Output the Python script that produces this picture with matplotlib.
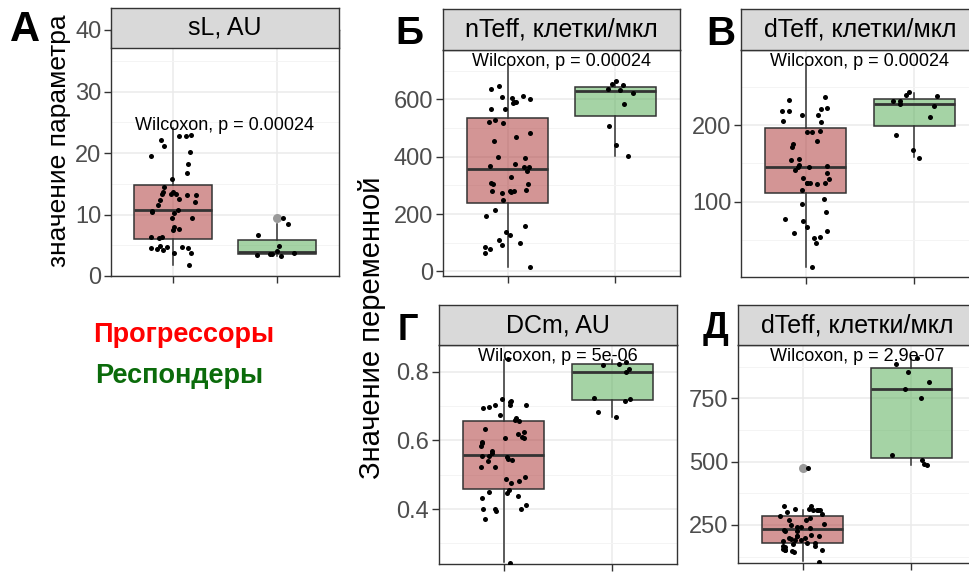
import numpy as np
import matplotlib
matplotlib.use("Agg")
import matplotlib.pyplot as plt

plt.rcParams['font.family'] = ['Liberation Sans', 'DejaVu Sans']

W, H = 970, 574

titles = ["sL, AU", "nTeff, клетки/мкл", "dTeff, клетки/мкл", "DCm, AU", "dTeff, клетки/мкл"]
letters = ["А", "Б", "В", "Г", "Д"]
pvals = ["0.00024", "0.00024", "0.00024", "5e-06", "2.9e-07"]
label_y = [24.5, 731, 284, 0.844, 914]

# jittered points (progressors / responders)
sl_prog = [22.7, 23.0, 22.8, 22.1, 21.2, 20.1, 19.5, 18.2, 16.7, 15.8, 14.4, 13.6, 13.4, 13.4,
           13.6, 13.3, 13.2, 13.1, 12.5, 12.0, 12.4, 11.5, 10.7, 10.6, 10.4, 10.2, 9.5, 9.5,
           7.6, 7.9, 7.4, 6.3, 6.3, 6.2, 4.7, 4.8, 4.7, 4.6, 4.6, 4.4, 4.3, 3.8, 3.7, 1.8]
sl_resp = [9.5, 8.5, 6.7, 4.9, 4.1, 3.8, 3.5, 3.3, 3.4, 3.6]

nteff_prog = [647, 637, 612, 607, 602, 605, 588, 592, 592, 566, 566, 528, 519, 521, 481, 456,
              467, 398, 395, 373, 369, 365, 363, 349, 328, 309, 305, 305, 281, 281, 284, 281,
              277, 272, 249, 214, 193, 160, 137, 127, 109, 98, 86, 91, 63, 79, 16]
nteff_resp = [649, 653, 663, 621, 637, 633, 583, 507, 440, 402]

dteff_prog = [237, 233, 223, 219, 214, 221, 219, 214, 205, 206, 192, 193, 191, 179, 175, 172,
              156, 155, 148, 147, 146, 146, 142, 137, 131, 129, 125, 124, 124, 123, 124, 115,
              104, 97, 86, 77, 74, 66, 62, 59, 54, 52, 45, 14]
dteff_resp = [238, 240, 244, 228, 232, 232, 226, 211, 187, 157, 168]

dcm_prog = [0.837, 0.715, 0.702, 0.702, 0.721, 0.712, 0.704, 0.696, 0.694, 0.675, 0.665, 0.657,
            0.659, 0.632, 0.626, 0.618, 0.611, 0.606, 0.606, 0.596, 0.593, 0.584, 0.569, 0.562,
            0.554, 0.552, 0.556, 0.545, 0.541, 0.543, 0.523, 0.523, 0.494, 0.488, 0.481, 0.475,
            0.455, 0.450, 0.448, 0.432, 0.438, 0.411, 0.400, 0.400, 0.395, 0.399, 0.370, 0.244]
dcm_resp = [0.829, 0.819, 0.807, 0.799, 0.723, 0.716, 0.722, 0.683, 0.669, 0.824]

dteff2_prog = [474, 326, 324, 313, 308, 308, 313, 310, 308, 295, 300, 284, 276, 271, 271, 255,
               242, 250, 242, 237, 232, 225, 225, 211, 208, 208, 208, 199, 199, 195, 190, 190,
               187, 179, 177, 174, 169, 166, 164, 153, 153, 156, 153, 148, 143, 103]
dteff2_resp = [907, 885, 855, 816, 785, 749, 526, 505, 492, 488]

# box stats: q1, median, q3, lower whisker, upper whisker
sl_box = [(6.0, 10.8, 14.8, 1.8, 24.0), (3.6, 3.9, 5.85, 3.3, 8.5)]
nteff_box = [(240, 356, 536, 16, 720), (543, 630, 642, 403, 665)]
dteff_box = [(111, 145, 196.5, 14, 279), (199, 228, 235, 158, 243)]
dcm_box = [(0.458, 0.557, 0.656, 0.247, 0.834), (0.717, 0.80, 0.822, 0.669, 0.834)]
dteff2_box = [(179, 234, 287, 107, 310), (514, 785, 868, 488, 907)]
outliers = [([], [9.5]), ([], []), ([], []), ([], []), ([474], [])]

points = [(sl_prog, sl_resp), (nteff_prog, nteff_resp), (dteff_prog, dteff_resp),
          (dcm_prog, dcm_resp), (dteff2_prog, dteff2_resp)]
boxes = [sl_box, nteff_box, dteff_box, dcm_box, dteff2_box]

ylims = [(0, 40), (-16, 772), (1, 299), (0.24, 0.878), (100, 960)]
majors = [[0, 10, 20, 30, 40], [0, 200, 400, 600], [100, 200], [0.4, 0.6, 0.8], [250, 500, 750]]
minors = [[5, 15, 25, 35], [100, 300, 500, 700], [50, 150, 250], [0.3, 0.5, 0.7], [125, 375, 625, 875]]

# pixel layout: (left, top, right, bottom)
ax_px = [(111, 30, 339, 276), (443, 50, 680, 276), (741, 50, 979, 277),
         (439, 345, 677, 564), (738, 345, 976, 563)]
strip_px = [(111, 8, 339, 48), (443, 9, 680, 50), (741, 9, 979, 50),
            (439, 305, 677, 345), (738, 305, 976, 345)]
letter_px = [(10, 30, 30), (395, 34, 28), (706, 34, 29), (398, 331, 26), (703, 329, 26)]

fill_cols = [(169/255, 45/255, 45/255, 0.5), (77/255, 169/255, 77/255, 0.5)]
dark = '#333333'


def rect(b):
    l, t, r, bt = b
    return [l / W, 1 - bt / H, (r - l) / W, (bt - t) / H]


fig = plt.figure(figsize=(W / 100, H / 100), dpi=100)
rng = np.random.default_rng(7)

for i in range(5):
    ax = fig.add_axes(rect(ax_px[i]))

    for g in range(2):
        q1, med, q3, lo, hi = boxes[i][g]
        st = dict(q1=q1, med=med, q3=q3, whislo=lo, whishi=hi, fliers=outliers[i][g])
        ax.bxp([st], positions=[g + 1], widths=0.75, patch_artist=True, showcaps=False,
               manage_ticks=False,
               boxprops=dict(facecolor=fill_cols[g], edgecolor=dark, lw=1.1),
               medianprops=dict(color=dark, lw=2),
               whiskerprops=dict(color=dark, lw=1.1),
               flierprops=dict(marker='o', markerfacecolor='#9A9A9A', markeredgecolor='none',
                               markersize=6.5))
        vals = points[i][g]
        xs = g + 1 + rng.uniform(-0.22, 0.22, len(vals))
        ax.scatter(xs, vals, s=13, color='black', lw=0, zorder=4)

    ax.set_xlim(0.4, 2.6)
    ax.set_ylim(*ylims[i])
    ax.set_yticks(majors[i])
    ax.set_yticks(minors[i], minor=True)
    ax.set_xticks([1, 2])
    ax.set_xticklabels([])
    ax.grid(which='major', color='#EBEBEB', lw=1.1, zorder=0)
    ax.grid(which='minor', axis='y', color='#F4F4F4', lw=0.7, zorder=0)
    ax.set_axisbelow(True)
    for s in ax.spines.values():
        s.set_color(dark)
        s.set_linewidth(1)
    ax.tick_params(which='major', length=5, width=1, color=dark, labelcolor='#4D4D4D',
                   labelsize=17, pad=2)
    ax.tick_params(which='minor', length=0)

    ax.text(1.5, label_y[i], "Wilcoxon, p = " + pvals[i], ha='center', va='center',
            fontsize=13, zorder=5)

    sax = fig.add_axes(rect(strip_px[i]))
    sax.set_facecolor('#D9D9D9')
    sax.set_xticks([])
    sax.set_yticks([])
    for s in sax.spines.values():
        s.set_color(dark)
        s.set_linewidth(1)
    sax.text(0.5, 0.5, titles[i], ha='center', va='center', fontsize=18,
             transform=sax.transAxes)

    lx, ly, fs = letter_px[i]
    fig.text(lx / W, 1 - ly / H, letters[i], fontsize=fs, fontweight='bold', va='center')

fig.text(59 / W, 1 - 141 / H, "значение параметра", rotation=90, ha='center', va='center',
         fontsize=19)
fig.text(372 / W, 1 - 328 / H, "Значение переменной", rotation=90, ha='center', va='center',
         fontsize=21)

fig.text(93 / W, 1 - 335 / H, "Прогрессоры", color='#FF0000', fontsize=19.5, fontweight='bold',
         va='center')
fig.text(95 / W, 1 - 376 / H, "Респондеры", color='#0B6B0B', fontsize=19.5, fontweight='bold',
         va='center')

fig.savefig("out.png", dpi=100)
